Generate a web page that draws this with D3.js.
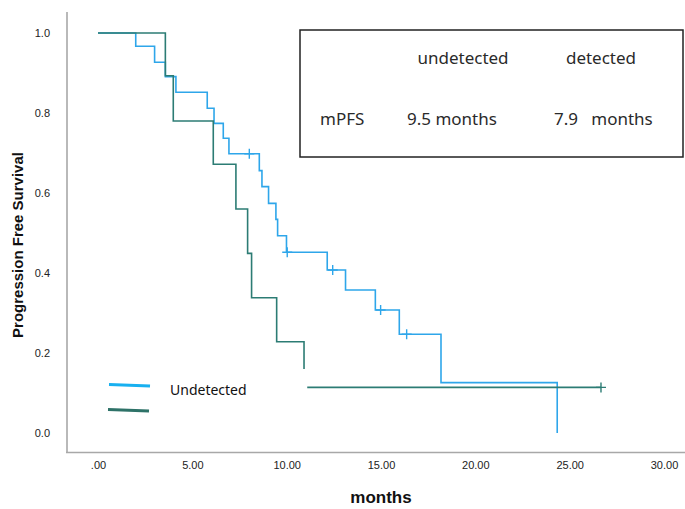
<!DOCTYPE html>
<html><head><meta charset="utf-8">
<script src="https://cdn.jsdelivr.net/npm/d3@7"></script>
<style>body{margin:0;background:#fff}svg{display:block}</style>
</head><body>
<svg id="c" width="685" height="509"></svg>
<script>
// ---- data ----
const xTicks = [0, 5, 10, 15, 20, 25, 30];
const xTickLabels = [".00", "5.00", "10.00", "15.00", "20.00", "25.00", "30.00"];
const yTicks = [0, 0.2, 0.4, 0.6, 0.8, 1.0];
const yTickLabels = ["0.0", "0.2", "0.4", "0.6", "0.8", "1.0"];

// Undetected group: KM steps [time, survival]
const undetectedTimes = [0, 2.0, 3.0, 3.57, 4.13, 5.79, 6.15, 6.64, 6.94, 8.55, 8.69, 9.04, 9.43, 9.52, 9.99, 12.15, 13.12, 14.70, 15.97, 18.18, 24.34];
const undetectedSurv  = [1.0, 0.967, 0.927, 0.891, 0.852, 0.812, 0.774, 0.737, 0.698, 0.656, 0.616, 0.574, 0.534, 0.493, 0.452, 0.4075, 0.3575, 0.3075, 0.247, 0.126, 0.0];
const undetectedCensorT = [8.02, 10.03, 12.44, 14.98, 16.36];
const undetectedCensorS = [0.698, 0.452, 0.4075, 0.3075, 0.247];

// Detected group
const detectedTimes = [0, 3.57, 3.99, 6.11, 7.31, 7.93, 8.14, 9.47, 10.92];
const detectedSurv  = [1.0, 0.893, 0.78, 0.672, 0.56, 0.449, 0.338, 0.228, 0.16];
const detectedTailTimes = [11.09, 26.66];
const detectedTailSurv  = [0.114, 0.114];
const detectedCensorT = [26.66];
const detectedCensorS = [0.114];

const legendLabels = ["Undetected", ""];
const tableHeader = ["undetected", "detected"];
const tableRowLabel = "mPFS";
const tableValues = ["9.5 months", "7.9   months"];

// ---- drawing ----
const blue = "#2ea6ea", teal = "#2c7c74";
const svg = d3.select("#c");
const x = d3.scaleLinear().domain([0, 30]).range([98, 664]);
const y = d3.scaleLinear().domain([0, 1]).range([433, 33]);

// axis lines
svg.append("line").attr("x1", 67).attr("x2", 67).attr("y1", 12).attr("y2", 453)
  .attr("stroke", "#a8a8a8").attr("stroke-width", 1.6);
svg.append("line").attr("x1", 66).attr("x2", 685).attr("y1", 452.5).attr("y2", 452.5)
  .attr("stroke", "#a8a8a8").attr("stroke-width", 1.6);

const xAxis = d3.axisBottom(x).tickValues(xTicks).tickSize(0).tickPadding(9)
  .tickFormat((d, i) => xTickLabels[i]);
const gx = svg.append("g").attr("transform", "translate(0,452)").call(xAxis);
gx.select(".domain").remove();
gx.selectAll("text").attr("font-family", "Liberation Sans, Arial, sans-serif")
  .attr("font-size", 11).attr("fill", "#222");

const yAxis = d3.axisLeft(y).tickValues(yTicks).tickSize(0).tickPadding(17)
  .tickFormat((d, i) => yTickLabels[i]);
const gy = svg.append("g").attr("transform", "translate(67,0)").call(yAxis);
gy.select(".domain").remove();
gy.selectAll("text").attr("font-family", "Liberation Sans, Arial, sans-serif")
  .attr("font-size", 11).attr("fill", "#222");

// axis titles
svg.append("text").attr("x", 381).attr("y", 503).attr("text-anchor", "middle")
  .attr("font-family", "Liberation Sans, Arial, sans-serif").attr("font-weight", "bold")
  .attr("font-size", 17).attr("fill", "#111").text("months");
svg.append("text").attr("transform", "translate(23,245) rotate(-90)").attr("text-anchor", "middle")
  .attr("font-family", "Liberation Sans, Arial, sans-serif").attr("font-weight", "bold")
  .attr("font-size", 15).attr("fill", "#111").text("Progression Free Survival");

// curves
const line = d3.line().x(d => x(d[0])).y(d => y(d[1])).curve(d3.curveStepAfter);
const plain = d3.line().x(d => x(d[0])).y(d => y(d[1]));
const uPts = undetectedTimes.map((t, i) => [t, undetectedSurv[i]]);
const dPts = detectedTimes.map((t, i) => [t, detectedSurv[i]]);
const dTail = detectedTailTimes.map((t, i) => [t, detectedTailSurv[i]]);

svg.append("path").attr("d", line(uPts)).attr("fill", "none").attr("stroke", blue).attr("stroke-width", 1.6);
svg.append("path").attr("d", line(dPts)).attr("fill", "none").attr("stroke", teal).attr("stroke-width", 1.6);
svg.append("path").attr("d", plain(dTail)).attr("fill", "none").attr("stroke", teal).attr("stroke-width", 1.6);

function censor(ts, ss, col) {
  ts.forEach((t, i) => {
    const cx = x(t), cy = y(ss[i]);
    svg.append("path").attr("d", `M${cx},${cy - 5}V${cy + 5}M${cx - 5},${cy}H${cx + 5}`)
      .attr("stroke", col).attr("stroke-width", 1.4).attr("fill", "none");
  });
}
censor(undetectedCensorT, undetectedCensorS, blue);
censor(detectedCensorT, detectedCensorS, teal);

// legend
const legColors = ["#18b0f0", "#2e7268"];
legendLabels.forEach((lab, i) => {
  const ly = 385 + i * 25;
  svg.append("line").attr("x1", 109 - i).attr("x2", 150 - i).attr("y1", ly - 0.5).attr("y2", ly + 1)
    .attr("stroke", legColors[i]).attr("stroke-width", 2.8);
  if (lab) svg.append("text").attr("x", 170).attr("y", ly + 10)
    .attr("font-family", "Noto Sans, Open Sans, sans-serif").attr("font-size", 14).attr("fill", "#111").text(lab);
});

// table box
svg.append("rect").attr("x", 300).attr("y", 30).attr("width", 383).attr("height", 127)
  .attr("fill", "none").attr("stroke", "#222").attr("stroke-width", 1.5);
const ff = "Noto Sans, Open Sans, sans-serif";
const fs = 17;
const colX = [463, 601];
tableHeader.forEach((h, i) => {
  svg.append("text").attr("x", colX[i]).attr("y", 64).attr("text-anchor", "middle")
    .attr("font-family", ff).attr("font-size", fs).attr("fill", "#2a2a2a").text(h);
});
svg.append("text").attr("x", 320).attr("y", 125).attr("font-family", ff).attr("font-size", fs)
  .attr("fill", "#2a2a2a").text(tableRowLabel);
const valX = [407, 554];
tableValues.forEach((v, i) => {
  svg.append("text").attr("x", valX[i]).attr("y", 125).attr("font-family", ff).attr("font-size", fs)
    .attr("fill", "#2a2a2a").attr("xml:space", "preserve").style("white-space", "pre").text(v);
});
</script>
</body></html>
